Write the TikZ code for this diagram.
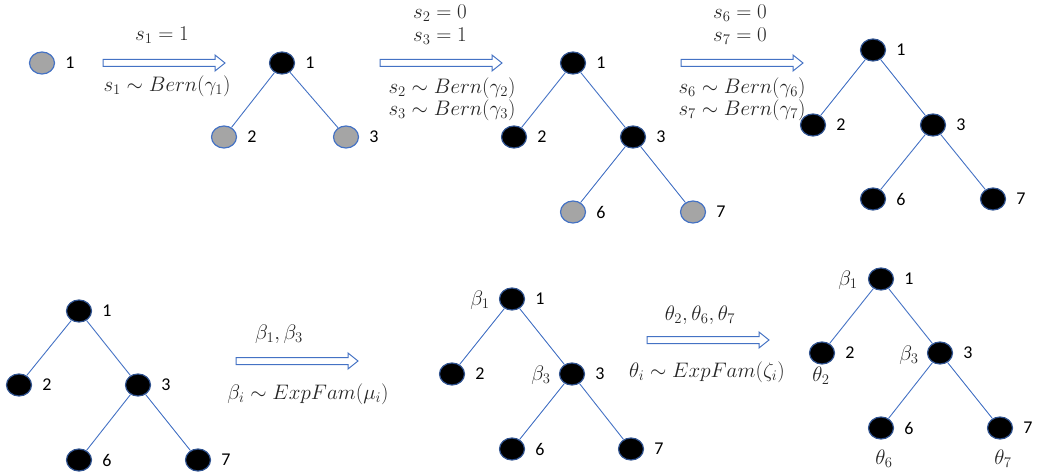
\documentclass[tikz,border=0pt]{standalone}
\usepackage[no-math]{fontspec}
\usepackage{fix-cm}
\newfontfamily\labfont{Carlito}
\usetikzlibrary{shapes.geometric}
\definecolor{edgeblue}{HTML}{4472C4}
\definecolor{darkrim}{HTML}{2F528F}
\definecolor{nodegray}{HTML}{A5A5A5}
\definecolor{textgray}{HTML}{262626}
\tikzset{
  vtx/.style={ellipse, minimum width=25pt, minimum height=22pt, inner sep=0pt, line width=1.2pt},
  onvtx/.style={vtx, draw=darkrim, fill=black},
  offvtx/.style={vtx, draw=edgeblue, fill=nodegray},
  num/.style={font=\labfont\fontsize{18}{20}\selectfont, inner sep=0pt},
  br/.style={draw=edgeblue, line width=0.9pt},
  bigarrow/.style={draw=edgeblue, fill=white, line width=1pt},
  mlab/.style={font=\fontsize{21}{24}\selectfont, inner sep=0pt, text=textgray},
  fatarrow/.pic={\draw[bigarrow] (0,-3.5) -- (112,-3.5) -- (112,-8) -- (122,0) -- (112,8) -- (112,3.5) -- (0,3.5) -- cycle;}
}
\newcommand\tn[5]{\node[#4] (#1) at (#2,#3) {}; \node[num, anchor=west] (#1l) at ([xshift=10pt]#1.east) {#5};}
\begin{document}
\begin{tikzpicture}[x=1pt,y=-1pt]
\useasboundingbox (0,0) rectangle (1037,476);

% Tree A
\tn{a1}{42}{63}{offvtx}{1}

% Arrow 1
\pic at (103,63) {fatarrow};
\node[mlab] (t1a) at (162,35) {$s_1 = 1$};
\node[mlab] (t1b) at (167,86) {$s_1 \sim Bern(\gamma_1)$};

% Tree B
\tn{b1}{282}{63}{onvtx}{1}
\tn{b2}{224}{137}{offvtx}{2}
\tn{b3}{346}{137}{offvtx}{3}
\draw[br] (b1) -- (b2);
\draw[br] (b1) -- (b3);

% Arrow 2
\pic at (380,63) {fatarrow};
\node[mlab] (t2a) at (440,13) {$s_2 = 0$};
\node[mlab] (t2b) at (440,36) {$s_3 = 1$};
\node[mlab] (t2c) at (452,88) {$s_2 \sim Bern(\gamma_2)$};
\node[mlab] (t2d) at (452,110) {$s_3 \sim Bern(\gamma_3)$};

% Tree C
\tn{c1}{573}{63}{onvtx}{1}
\tn{c2}{514}{137}{onvtx}{2}
\tn{c3}{633}{137}{onvtx}{3}
\tn{c6}{573}{212}{offvtx}{6}
\tn{c7}{693}{212}{offvtx}{7}
\draw[br] (c1) -- (c2);
\draw[br] (c1) -- (c3);
\draw[br] (c3) -- (c6);
\draw[br] (c3) -- (c7);

% Arrow 3
\pic at (681,63) {fatarrow};
\node[mlab] (t3a) at (740,13) {$s_6 = 0$};
\node[mlab] (t3b) at (740,36) {$s_7 = 0$};
\node[mlab] (t3c) at (742,88) {$s_6 \sim Bern(\gamma_6)$};
\node[mlab] (t3d) at (742,110) {$s_7 \sim Bern(\gamma_7)$};

% Tree D
\tn{d1}{873}{50}{onvtx}{1}
\tn{d2}{813}{125}{onvtx}{2}
\tn{d3}{933}{125}{onvtx}{3}
\tn{d6}{873}{199}{onvtx}{6}
\tn{d7}{993}{199}{onvtx}{7}
\draw[br] (d1) -- (d2);
\draw[br] (d1) -- (d3);
\draw[br] (d3) -- (d6);
\draw[br] (d3) -- (d7);

% Tree E
\tn{e1}{79}{311}{onvtx}{1}
\tn{e2}{19}{385}{onvtx}{2}
\tn{e3}{138}{385}{onvtx}{3}
\tn{e6}{79}{460}{onvtx}{6}
\tn{e7}{198}{460}{onvtx}{7}
\draw[br] (e1) -- (e2);
\draw[br] (e1) -- (e3);
\draw[br] (e3) -- (e6);
\draw[br] (e3) -- (e7);

% Arrow 4
\pic at (236,361) {fatarrow};
\node[mlab] (t4a) at (279,334) {$\beta_1,\beta_3$};
\node[mlab] (t4b) at (308,394) {$\beta_i \sim ExpFam(\mu_i)$};

% Tree F
\tn{f1}{512}{299}{onvtx}{1}
\tn{f2}{452}{374}{onvtx}{2}
\tn{f3}{572}{374}{onvtx}{3}
\tn{f6}{512}{449}{onvtx}{6}
\tn{f7}{631}{449}{onvtx}{7}
\draw[br] (f1) -- (f2);
\draw[br] (f1) -- (f3);
\draw[br] (f3) -- (f6);
\draw[br] (f3) -- (f7);
\node[mlab] (f1b) at ([xshift=-32pt,yshift=-1pt]f1) {$\beta_1$};
\node[mlab] (f3b) at ([xshift=-31pt,yshift=-1pt]f3) {$\beta_3$};

% Arrow 5
\pic at (647,340) {fatarrow};
\node[mlab] (t5a) at (700,315) {$\theta_2,\theta_6,\theta_7$};
\node[mlab] (t5b) at (707,372) {$\theta_i \sim ExpFam(\zeta_i)$};

% Tree G
\tn{g1}{881}{279}{onvtx}{1}
\tn{g2}{822}{353}{onvtx}{2}
\tn{g3}{940}{353}{onvtx}{3}
\tn{g6}{881}{428}{onvtx}{6}
\tn{g7}{1000}{428}{onvtx}{7}
\draw[br] (g1) -- (g2);
\draw[br] (g1) -- (g3);
\draw[br] (g3) -- (g6);
\draw[br] (g3) -- (g7);
\node[mlab] (g1b) at ([xshift=-33pt,yshift=-1pt]g1) {$\beta_1$};
\node[mlab] (g3b) at ([xshift=-31pt,yshift=-2pt]g3) {$\beta_3$};
\node[mlab] (g2t) at ([xshift=-1pt,yshift=-23pt]g2) {$\theta_2$};
\node[mlab] (g6t) at ([xshift=3pt,yshift=-31pt]g6) {$\theta_6$};
\node[mlab] (g7t) at ([xshift=3pt,yshift=-31pt]g7) {$\theta_7$};
\end{tikzpicture}
\end{document}
